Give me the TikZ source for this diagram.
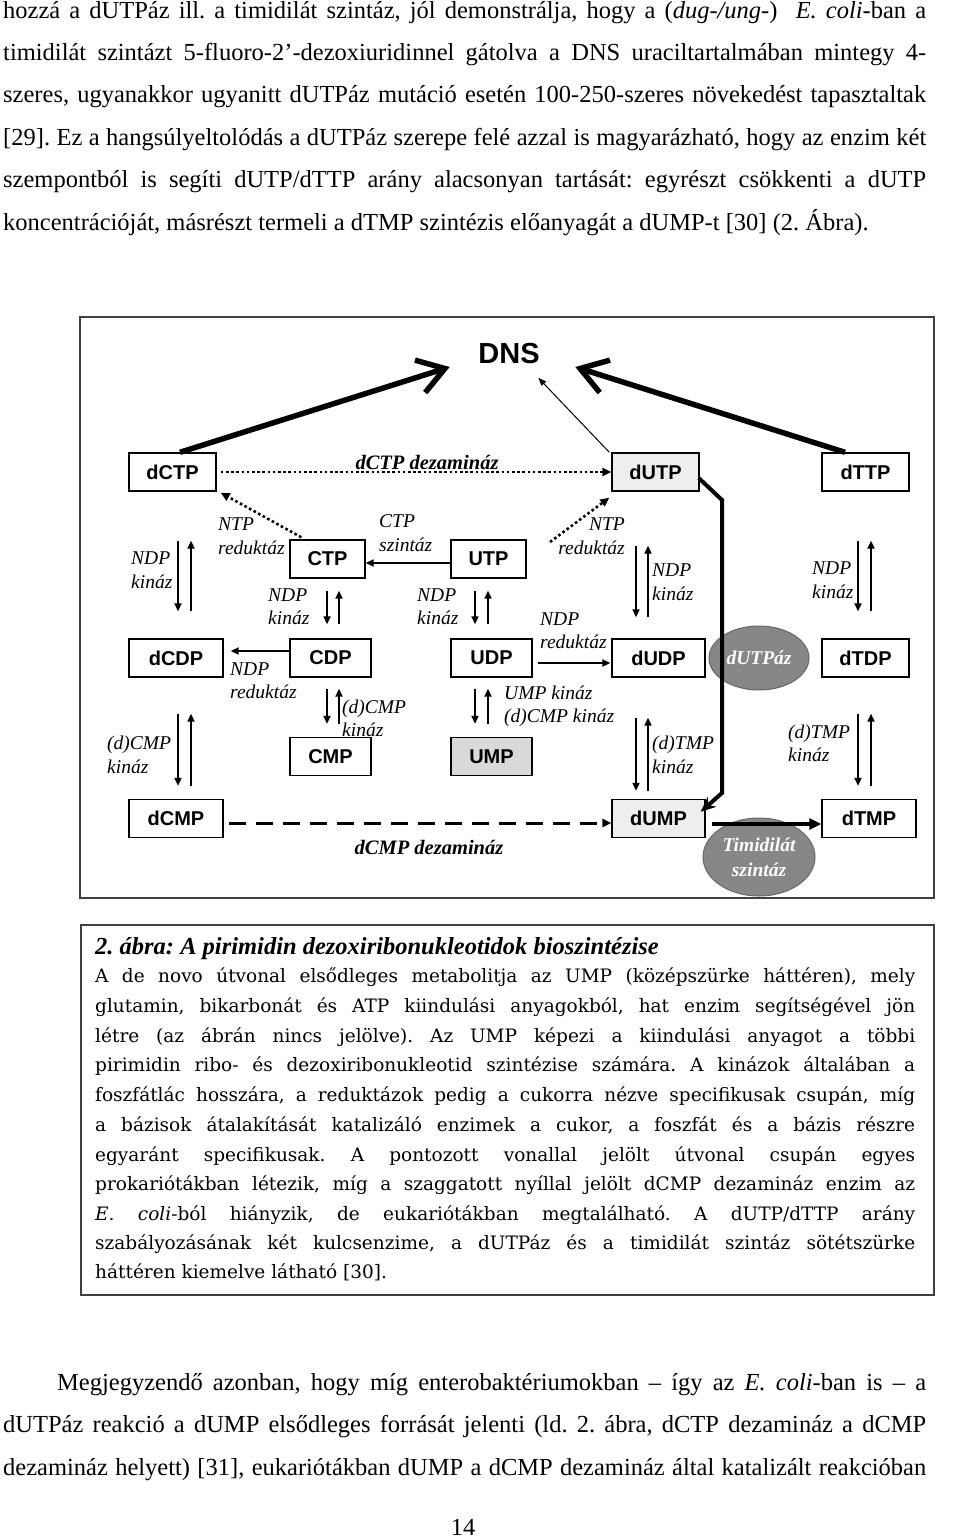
\documentclass[tikz,border=0pt]{standalone}
\usepackage{fontspec}
\setmainfont{Liberation Serif}
\newfontfamily\arialf{Liberation Sans}
\newfontfamily\capf{DejaVu Serif}
\usetikzlibrary{arrows.meta,shapes.geometric,calc}
\definecolor{lgray}{RGB}{238,238,238}
\definecolor{mgray}{RGB}{217,217,217}
\definecolor{dgray}{RGB}{135,135,135}
\tikzset{
  bx/.style={draw, line width=1.4pt, inner sep=0pt, minimum height=38pt, font=\arialf\bfseries\fontsize{20}{20}\selectfont},
  lb/.style={inner sep=0pt, align=left, font=\fontsize{19.5}{23.5}\selectfont\itshape},
  lbr/.style={inner sep=0pt, align=right, font=\fontsize{19.5}{23.5}\selectfont\itshape},
  enz/.style={inner sep=0pt, font=\fontsize{20.5}{20.5}\selectfont\bfseries\itshape},
  arr/.style={line width=2.4pt, -{Triangle[length=8pt,width=7pt]}},
  dotarr/.style={line width=2.6pt, dash pattern=on 2.6pt off 2.6pt, -{Triangle[length=9pt,width=8pt]}},
  dasharr/.style={line width=3pt, dash pattern=on 17pt off 10pt, -{Triangle[length=9pt,width=8pt]}},
  bigarr/.style={line width=5.5pt, -{Straight Barb[length=26pt,width=34pt]}},
  ell/.style={ellipse, fill=dgray, draw=black!60, line width=1pt, inner sep=0pt, text=white, align=center, font=\fontsize{19.5}{25}\selectfont\bfseries\itshape},
  bodytxt/.style={anchor=base west, inner sep=0pt, font=\fontsize{24.5}{24.5}\selectfont},
  captxt/.style={anchor=base west, inner sep=0pt, font=\capf\fontsize{18.5}{18.5}\selectfont},
  framebox/.style={draw=black!75, line width=1.6pt}
}
\begin{document}
\frenchspacing
\begin{tikzpicture}[x=1pt,y=-1pt]
\useasboundingbox (0,0) rectangle (960,1538);
\fill[white] (0,0) rectangle (960,1538);

% body text top
\node[bodytxt] (t1) at (3,19) {\makebox[923pt][s]{hozzá a dUTPáz ill. a timidilát szintáz, jól demonstrálja, hogy a (\textit{dug-/ung-}) \ \textit{E. coli}-ban a}};
\node[bodytxt] (t2) at (3,61) {\makebox[923pt][s]{timidilát szintázt 5-fluoro-2’-dezoxiuridinnel gátolva a DNS uraciltartalmában mintegy 4-}};
\node[bodytxt] (t3) at (3,103) {\makebox[923pt][s]{szeres, ugyanakkor ugyanitt dUTPáz mutáció esetén 100-250-szeres növekedést tapasztaltak}};
\node[bodytxt] (t4) at (3,146) {\makebox[923pt][s]{[29]. Ez a hangsúlyeltolódás a dUTPáz szerepe felé azzal is magyarázható, hogy az enzim két}};
\node[bodytxt] (t5) at (3,188) {\makebox[923pt][s]{szempontból is segíti dUTP/dTTP arány alacsonyan tartását: egyrészt csökkenti a dUTP}};
\node[bodytxt] (t6) at (3,231) {koncentrációját, másrészt termeli a dTMP szintézis előanyagát a dUMP-t [30] (2. Ábra).};

% figure frame
\draw[framebox] (80,317) rectangle (934,898);

% DNS
\node[inner sep=0pt, font=\arialf\bfseries\fontsize{29}{29}\selectfont] (DNS) at (509,354) {DNS};

% boxes
\node[bx, minimum width=87pt] (dCTP) at (172.5,472) {dCTP};
\node[bx, minimum width=75pt] (CTP) at (327.5,559) {CTP};
\node[bx, minimum width=75pt] (UTP) at (488.5,559) {UTP};
\node[bx, minimum width=87pt, fill=lgray] (dUTP) at (655.5,472) {dUTP};
\node[bx, minimum width=87pt] (dTTP) at (865.5,472) {dTTP};
\node[bx, minimum width=94pt] (dCDP) at (176,658) {dCDP};
\node[bx, minimum width=81pt] (CDP) at (330.5,658) {CDP};
\node[bx, minimum width=81pt] (UDP) at (491.5,658) {UDP};
\node[bx, minimum width=93pt] (dUDP) at (658.5,658) {dUDP};
\node[bx, minimum width=87pt] (dTDP) at (865.5,658) {dTDP};
\node[bx, minimum width=81pt] (CMP) at (330.5,756.5) {CMP};
\node[bx, minimum width=81pt, fill=mgray] (UMP) at (491.5,756.5) {UMP};
\node[bx, minimum width=94pt] (dCMP) at (176,818.5) {dCMP};
\node[bx, minimum width=93pt, fill=lgray] (dUMP) at (658.5,818.5) {dUMP};
\node[bx, minimum width=94pt] (dTMP) at (869,818.5) {dTMP};

% enzyme ellipses
\node[ell, minimum width=100pt, minimum height=64pt] (dUTPaz) at (759,658) {dUTPáz};
\node[ell, minimum width=112pt, minimum height=78pt] (TS) at (759,857) {Timidilát\\szintáz};

% arrows to DNS
\draw[bigarr] ([xshift=7.5pt]dCTP.north) -- ([xshift=-28.5pt,yshift=-13pt]DNS.west);
\draw[bigarr] ([xshift=-20.5pt]dTTP.north) -- ([xshift=35.5pt,yshift=-13pt]DNS.east);
\draw[line width=1pt, -{Triangle[length=8pt,width=6pt]}] ([xshift=-2pt]dUTP.north west) -- ([xshift=-1.5pt,yshift=-13.4pt]DNS.south east);

% dotted paths
\draw[dotarr] ([xshift=4pt]dCTP.east) -- (dUTP.west);
\draw[dotarr] ([xshift=12pt,yshift=2pt]CTP.north west) -- ([xshift=4pt,yshift=-1pt]dCTP.south east);
\coordinate (ntpr) at (550,542);
\draw[dotarr] (ntpr) -- ([xshift=-2pt,yshift=-6pt]dUTP.south west);

% horizontal arrows
\draw[arr] ([yshift=-4pt]UTP.west) -- ([yshift=-4pt]CTP.east);
\draw[arr] ([yshift=7pt]CDP.west) -- ([xshift=7pt,yshift=7pt]dCDP.east);
\draw[arr] ([xshift=5pt,yshift=-5pt]UDP.east) -- ([xshift=-1pt,yshift=-5pt]dUDP.west);
\draw[dasharr] ([xshift=5pt,yshift=-4.5pt]dCMP.east) -- ([yshift=-4.5pt]dUMP.west);
\draw[line width=3.6pt, -{Triangle[length=12pt,width=11pt]}] ([xshift=6pt,yshift=-5.5pt]dUMP.east) -- ([yshift=-5.5pt]dTMP.west);

% dUTP -> dUMP thick path
\coordinate (b1) at (722,500);
\coordinate (b2) at (722,793);
\draw[line width=4pt, line join=miter, -{Stealth[length=15pt,width=13pt]}] ([xshift=-1pt,yshift=-6pt]dUTP.east) -- (b1) -- (b2) -- ([xshift=-5pt,yshift=-13pt]dUMP.north east);

% vertical pairs
\draw[arr] ([xshift=5.5pt,yshift=-49pt]dCTP.south) -- ([xshift=2pt,yshift=27pt]dCDP.north);
\draw[arr] ([xshift=15pt,yshift=27pt]dCDP.north) -- ([xshift=18.5pt,yshift=-49pt]dCTP.south);
\draw[arr] ([xshift=-0.5pt,yshift=-12pt]CTP.south) -- ([xshift=-3.5pt,yshift=14pt]CDP.north);
\draw[arr] ([xshift=8.5pt,yshift=14pt]CDP.north) -- ([xshift=11.5pt,yshift=-12pt]CTP.south);
\draw[arr] ([xshift=-13.5pt,yshift=-12pt]UTP.south) -- ([xshift=-16.5pt,yshift=14pt]UDP.north);
\draw[arr] ([xshift=-3.5pt,yshift=14pt]UDP.north) -- ([xshift=-0.5pt,yshift=-12pt]UTP.south);
\draw[arr] ([xshift=-19.5pt,yshift=-54pt]dUTP.south) -- ([xshift=-22.5pt,yshift=21pt]dUDP.north);
\draw[arr] ([xshift=-10.5pt,yshift=21pt]dUDP.north) -- ([xshift=-7.5pt,yshift=-54pt]dUTP.south);
\draw[arr] ([xshift=-7.5pt,yshift=-49pt]dTTP.south) -- ([xshift=-7.5pt,yshift=27pt]dTDP.north);
\draw[arr] ([xshift=5.5pt,yshift=27pt]dTDP.north) -- ([xshift=5.5pt,yshift=-49pt]dTTP.south);
\draw[arr] ([xshift=-3.5pt,yshift=-11pt]CDP.south) -- ([xshift=-3.5pt,yshift=13pt]CMP.north);
\draw[arr] ([xshift=8.5pt,yshift=13pt]CMP.north) -- ([xshift=8.5pt,yshift=-11pt]CDP.south);
\draw[arr] ([xshift=-16.5pt,yshift=-11pt]UDP.south) -- ([xshift=-16.5pt,yshift=13pt]UMP.north);
\draw[arr] ([xshift=-3.5pt,yshift=13pt]UMP.north) -- ([xshift=-3.5pt,yshift=-11pt]UDP.south);
\draw[arr] ([xshift=2pt,yshift=-36pt]dCDP.south) -- ([xshift=2pt,yshift=13pt]dCMP.north);
\draw[arr] ([xshift=15pt,yshift=13pt]dCMP.north) -- ([xshift=15pt,yshift=-36pt]dCDP.south);
\draw[arr] ([xshift=-22.5pt,yshift=-40pt]dUDP.south) -- ([xshift=-22.5pt,yshift=8pt]dUMP.north);
\draw[arr] ([xshift=-10.5pt,yshift=8pt]dUMP.north) -- ([xshift=-10.5pt,yshift=-40pt]dUDP.south);
\draw[arr] ([xshift=-7.5pt,yshift=-36pt]dTDP.south) -- ([xshift=-11pt,yshift=13pt]dTMP.north);
\draw[arr] ([xshift=2pt,yshift=13pt]dTMP.north) -- ([xshift=5.5pt,yshift=-36pt]dTDP.south);

% labels
\node[enz] (l0) at (427,462) {dCTP dezamináz};
\node[enz] (l00) at (429,847) {dCMP dezamináz};
\node[lb, anchor=west] (l1) at (131,570) {NDP\\kináz};
\node[lb, anchor=west] (l2) at (218,536) {NTP\\reduktáz};
\node[lb, anchor=west] (l3) at (379,533) {CTP\\szintáz};
\node[lbr, anchor=east] (l4) at (625,536) {NTP\\reduktáz};
\node[lb, anchor=west] (l5) at (652,582) {NDP\\kináz};
\node[lb, anchor=west] (l6) at (812,580) {NDP\\kináz};
\node[lb, anchor=west] (l7) at (268,606.5) {NDP\\kináz};
\node[lb, anchor=west] (l8) at (417,606.5) {NDP\\kináz};
\node[lb, anchor=west] (l9) at (230,680.5) {NDP\\reduktáz};
\node[lb, anchor=west] (l10) at (540,630.5) {NDP\\reduktáz};
\node[lb, anchor=west] (l11) at (342,718.5) {(d)CMP\\kináz};
\node[lb, anchor=west] (l12) at (504,706.5) {UMP kináz\\(d)CMP kináz};
\node[lb, anchor=west] (l13) at (107,755) {(d)CMP\\kináz};
\node[lb, anchor=west] (l14) at (652,755) {(d)TMP\\kináz};
\node[lb, anchor=west] (l15) at (788,743.5) {(d)TMP\\kináz};

% caption box
\draw[framebox] (81,925) rectangle (934,1295);
\node[anchor=base west, inner sep=0pt, font=\fontsize{24.5}{24.5}\selectfont\bfseries\itshape] (ct) at (95,954) {2. ábra: A pirimidin dezoxiribonukleotidok bioszintézise};
\node[captxt] (c1) at (95,982) {\makebox[820pt][s]{A de novo útvonal elsődleges metabolitja az UMP (középszürke háttéren), mely}};
\node[captxt] (c2) at (95,1012) {\makebox[820pt][s]{glutamin, bikarbonát és ATP kiindulási anyagokból, hat enzim segítségével jön}};
\node[captxt] (c3) at (95,1042) {\makebox[820pt][s]{létre (az ábrán nincs jelölve). Az UMP képezi a kiindulási anyagot a többi}};
\node[captxt] (c4) at (95,1071) {\makebox[820pt][s]{pirimidin ribo- és dezoxiribonukleotid szintézise számára. A kinázok általában a}};
\node[captxt] (c5) at (95,1101) {\makebox[820pt][s]{foszfátlác hosszára, a reduktázok pedig a cukorra nézve specifikusak csupán, míg}};
\node[captxt] (c6) at (95,1131) {\makebox[820pt][s]{a bázisok átalakítását katalizáló enzimek a cukor, a foszfát és a bázis részre}};
\node[captxt] (c7) at (95,1161) {\makebox[820pt][s]{egyaránt specifikusak. A pontozott vonallal jelölt útvonal csupán egyes}};
\node[captxt] (c8) at (95,1190) {\makebox[820pt][s]{prokariótákban létezik, míg a szaggatott nyíllal jelölt dCMP dezamináz enzim az}};
\node[captxt] (c9) at (95,1220) {\makebox[820pt][s]{\textit{E. coli}-ból hiányzik, de eukariótákban megtalálható. A dUTP/dTTP arány}};
\node[captxt] (c10) at (95,1249) {\makebox[820pt][s]{szabályozásának két kulcsenzime, a dUTPáz és a timidilát szintáz sötétszürke}};
\node[captxt] (c11) at (95,1278) {háttéren kiemelve látható [30].};

% bottom text
\node[bodytxt] (b1t) at (57,1390) {\makebox[869pt][s]{Megjegyzendő azonban, hogy míg enterobaktériumokban – így az \textit{E. coli}-ban is – a}};
\node[bodytxt] (b2t) at (3,1432) {\makebox[923pt][s]{dUTPáz reakció a dUMP elsődleges forrását jelenti (ld. 2. ábra, dCTP dezamináz a dCMP}};
\node[bodytxt] (b3t) at (3,1475) {\makebox[923pt][s]{dezamináz helyett) [31], eukariótákban dUMP a dCMP dezamináz által katalizált reakcióban}};
\node[anchor=base, inner sep=0pt, font=\fontsize{24.5}{24.5}\selectfont] (pg) at (463,1535) {14};
\end{tikzpicture}
\end{document}
